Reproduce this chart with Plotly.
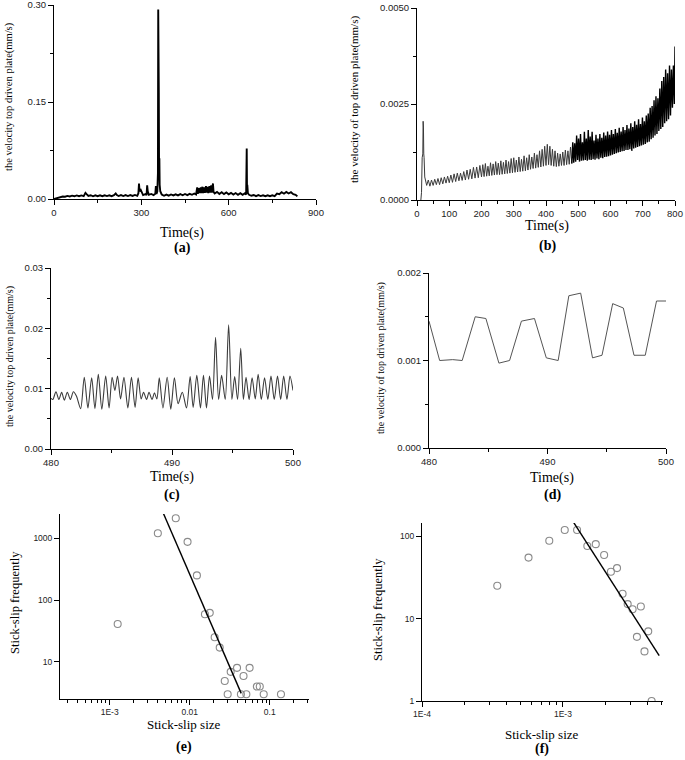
import plotly.graph_objects as go

W, H = 685, 760

# ---------------- data ----------------
# (a) velocity of top driven plate, 0-840 s
a_t = [0, 5, 10, 16, 22, 30, 38, 46, 54, 62, 70, 78, 86, 94, 102, 108, 112, 118, 126, 134,
       142, 150, 158, 166, 174, 182, 190, 198, 206, 212, 216, 222, 230, 238, 246, 254, 262, 270, 278, 286,
       290, 292, 294, 298, 306, 314, 318, 320, 322, 326, 334, 342, 348, 350, 352, 355, 357, 358, 359, 360,
       361, 362, 363, 365, 370, 378, 386, 394, 402, 410, 418, 426, 434, 442, 450, 458, 466, 474, 482, 488,
       492, 494, 498, 500, 504, 506, 510, 512, 516, 518, 522, 524, 528, 530, 534, 536, 540, 542, 546, 548,
       552, 560, 568, 576, 584, 592, 600, 608, 616, 624, 632, 640, 648, 656, 660, 662, 663, 664, 666, 670,
       678, 686, 694, 702, 710, 718, 726, 734, 742, 750, 758, 766, 774, 782, 790, 798, 806, 814, 822, 830,
       836]
a_v = [0.0, 0.0008, 0.0018, 0.0025, 0.003, 0.0038, 0.0035, 0.0048, 0.004, 0.0052, 0.0042, 0.0055, 0.0043, 0.0056, 0.0045, 0.0095, 0.0075, 0.0048, 0.0058, 0.0042,
       0.0056, 0.0044, 0.0057, 0.0043, 0.0058, 0.0045, 0.0057, 0.0044, 0.0058, 0.0085, 0.0062, 0.0046, 0.006, 0.0045, 0.0061, 0.0046, 0.006, 0.0047, 0.0062, 0.0048,
       0.009, 0.024, 0.012, 0.014, 0.006, 0.0075, 0.006, 0.021, 0.012, 0.0065, 0.0078, 0.006, 0.008, 0.02, 0.008, 0.012, 0.04, 0.293, 0.06, 0.165,
       0.04, 0.063, 0.022, 0.012, 0.007, 0.005, 0.0068, 0.0052, 0.007, 0.0055, 0.0072, 0.0056, 0.0075, 0.0058, 0.0078, 0.006, 0.008, 0.0065, 0.0085, 0.007,
       0.018, 0.008, 0.017, 0.009, 0.018, 0.009, 0.019, 0.009, 0.018, 0.0095, 0.02, 0.01, 0.019, 0.009, 0.02, 0.01, 0.021, 0.01, 0.024, 0.011,
       0.0085, 0.011, 0.0078, 0.0105, 0.0075, 0.01, 0.0072, 0.0095, 0.0068, 0.0092, 0.0066, 0.009, 0.0065, 0.0088, 0.007, 0.078, 0.012, 0.022, 0.009, 0.0065,
       0.005, 0.0062, 0.0045, 0.006, 0.0045, 0.0058, 0.0044, 0.0058, 0.0044, 0.0058, 0.0046, 0.0085, 0.0075, 0.0105, 0.0082, 0.011, 0.0085, 0.0105, 0.0075, 0.0065,
       0.004]

# (b) velocity of top driven plate, 0-800 s
b_t = [12, 14, 16, 18, 19, 20, 21, 22, 24, 27,
       30, 35, 40, 45, 50, 55, 60, 65, 70, 75, 80, 85, 90, 95, 100, 105, 110, 115, 120, 125,
       130, 135, 140, 145, 150, 155, 160, 165, 170, 175, 180, 185, 190, 195, 200,
       204, 208, 212, 216, 220, 224, 228, 232, 236, 240, 244, 248, 252, 256, 260, 264, 268, 272, 276, 280,
       284, 288, 292, 296, 300, 304, 308, 312, 316, 320, 324, 328, 332, 336, 340, 344, 348, 352, 356, 360,
       364, 368, 372, 376, 380, 384, 388, 392, 396, 400, 404, 408, 412, 416, 420, 424, 428, 432, 436, 440,
       444, 448, 452, 456, 460, 464, 468, 472, 476, 480,
       483, 486, 489, 492, 495, 498, 501, 504, 507, 510, 513, 516, 519, 522, 525, 528, 531, 534, 537, 540,
       543, 546, 549, 552, 555, 558, 561, 564, 567, 570, 573, 576, 579, 582, 585, 588, 591, 594, 597, 600,
       603, 606, 609, 612, 615, 618, 621, 624, 627, 630, 633, 636, 639, 642, 645, 648, 651, 654, 657, 660,
       663, 666, 669, 672, 675, 678, 681, 684, 687, 690, 693, 696, 699, 702, 705, 708, 711, 714, 717, 720,
       723, 726, 729, 732, 735, 738, 741, 744, 747, 750, 753, 756, 759, 762, 765, 768, 771, 774, 777, 780,
       783, 786, 789, 792, 795, 798, 800]
b_v = [0.0, 0.0002, 0.0011, 0.0012, 0.00205, 0.0019, 0.0012, 0.0011, 0.0006, 0.00045,
       0.00038, 0.00052, 0.00036, 0.00052, 0.00038, 0.00054, 0.0004, 0.00056, 0.0004, 0.00058, 0.00042, 0.0006, 0.00044, 0.00062, 0.00045, 0.00065, 0.00046, 0.00068, 0.00048, 0.0007,
       0.0005, 0.0007, 0.00051, 0.00074, 0.00052, 0.00078, 0.00054, 0.0008, 0.00055, 0.00085, 0.00057, 0.00086, 0.00058, 0.0009, 0.0006,
       0.00092, 0.00061, 0.00095, 0.00062, 0.00088, 0.00063, 0.00097, 0.00064, 0.00094, 0.00065, 0.001, 0.00066, 0.00096, 0.00066, 0.00102, 0.00067, 0.00098, 0.00068, 0.00104, 0.00069,
       0.001, 0.0007, 0.00108, 0.00071, 0.0011, 0.00072, 0.00104, 0.00073, 0.00112, 0.00074, 0.00106, 0.00075, 0.00115, 0.00076, 0.0011, 0.00078, 0.00118, 0.0008, 0.00112, 0.00082,
       0.00122, 0.00083, 0.00118, 0.00085, 0.00128, 0.00086, 0.00132, 0.00088, 0.0014, 0.0009, 0.00145, 0.00092, 0.0014, 0.0009, 0.00132, 0.00088, 0.00128, 0.00087, 0.00122, 0.00088,
       0.0012, 0.0009, 0.00125, 0.0009, 0.0013, 0.00092, 0.00128, 0.00093, 0.00138, 0.00095,
       0.0015, 0.00097, 0.00148, 0.001, 0.00168, 0.00104, 0.0016, 0.001, 0.00172, 0.00102, 0.0015, 0.00103, 0.00178, 0.00104, 0.0016, 0.00102, 0.00182, 0.00105, 0.00165, 0.00104,
       0.00178, 0.00106, 0.00155, 0.00105, 0.0017, 0.00108, 0.0016, 0.00106, 0.00172, 0.0011, 0.00162, 0.00109, 0.00176, 0.00112, 0.00168, 0.00113, 0.00178, 0.00114, 0.0017, 0.00116,
       0.00182, 0.00118, 0.00172, 0.0012, 0.00185, 0.00122, 0.00175, 0.00124, 0.00188, 0.00125, 0.00178, 0.00127, 0.0019, 0.00128, 0.00182, 0.0013, 0.00195, 0.0013, 0.00186, 0.00132,
       0.002, 0.00128, 0.0019, 0.00134, 0.00205, 0.00136, 0.00196, 0.00138, 0.0021, 0.0014, 0.00198, 0.00142, 0.00215, 0.00144, 0.00205, 0.00146, 0.0022, 0.0015, 0.00225, 0.00152,
       0.0024, 0.00158, 0.00245, 0.00162, 0.0026, 0.00168, 0.0027, 0.00172, 0.00265, 0.0018, 0.0029, 0.00185, 0.0031, 0.0019, 0.0032, 0.002, 0.0034, 0.00205, 0.0033, 0.0021,
       0.0035, 0.0022, 0.0034, 0.0024, 0.0035, 0.0025, 0.004]

# (c) detail 480-500 s
c_t = [480.0, 480.15, 480.41, 480.65, 480.88, 481.1, 481.35, 481.6, 481.85, 482.1,
       482.45, 482.75, 483.05, 483.36, 483.63, 483.91, 484.2, 484.52, 484.8, 485.05,
       485.28, 485.5, 485.75, 486.03, 486.35, 486.65, 486.95, 487.2, 487.45, 487.65,
       487.9, 488.1, 488.35, 488.55, 488.75, 488.95, 489.25, 489.6, 489.9, 490.2,
       490.5, 490.85, 491.2, 491.5, 491.75, 492.05, 492.35, 492.6, 492.85, 493.1,
       493.35, 493.6, 493.85, 494.1, 494.4, 494.68, 494.95, 495.18, 495.42, 495.68,
       495.9, 496.12, 496.37, 496.62, 496.88, 497.12, 497.38, 497.65, 497.92, 498.18,
       498.45, 498.72, 498.98, 499.23, 499.5, 499.75, 500.0]
c_v = [0.0084, 0.0082, 0.0095, 0.0082, 0.0094, 0.0081, 0.0094, 0.0082, 0.0095, 0.0088,
       0.0067, 0.0119, 0.0068, 0.0118, 0.0067, 0.0124, 0.0066, 0.0121, 0.0068, 0.0119,
       0.0097, 0.0121, 0.0083, 0.0119, 0.0068, 0.0119, 0.0069, 0.0118, 0.0083, 0.0094,
       0.0082, 0.0094, 0.0082, 0.0093, 0.0083, 0.0118, 0.0068, 0.0119, 0.0066, 0.0118,
       0.0075, 0.0094, 0.0068, 0.012, 0.0069, 0.0122, 0.0068, 0.0122, 0.0068, 0.0121,
       0.0082, 0.0185, 0.0082, 0.0122, 0.0082, 0.0206, 0.0082, 0.012, 0.0082, 0.0167,
       0.0082, 0.0119, 0.0082, 0.0118, 0.0083, 0.0124, 0.0082, 0.0118, 0.0082, 0.0121,
       0.0082, 0.0121, 0.0082, 0.0121, 0.0082, 0.0121, 0.0097]

# (d) detail 480-500 s
d_t = [480, 480.9, 482.0, 482.8, 483.9, 484.8, 485.9, 486.8, 487.8, 488.9, 489.9,
       490.9, 491.8, 492.8, 493.8, 494.6, 495.5, 496.4, 497.3, 498.25, 499.2, 500]
d_v = [0.00145, 0.001, 0.00101, 0.001, 0.0015, 0.00148, 0.00097, 0.001, 0.00145, 0.00148, 0.00103,
       0.001, 0.00174, 0.00177, 0.00103, 0.00106, 0.00165, 0.0016, 0.00106, 0.00106, 0.00168, 0.00168]

# (e) stick-slip size distribution
e_size = [0.00126, 0.0040, 0.0067, 0.0094, 0.0123, 0.0155, 0.0178, 0.0205, 0.0237, 0.0274, 0.0298,
          0.0325, 0.039, 0.0436, 0.047, 0.051, 0.056, 0.069, 0.075, 0.084, 0.138]
e_freq = [41, 1200, 2100, 870, 250, 59, 62, 25, 17, 4.9, 3, 6.9, 8, 3, 5.9, 3, 8, 4, 4, 3, 3]
e_fit_size = [0.0047, 0.044]
e_fit_freq = [2500, 3.1]

# (f) stick-slip size distribution
f_size = [3.42e-4, 5.7e-4, 8.0e-4, 1.03e-3, 1.26e-3, 1.49e-3, 1.71e-3, 1.96e-3, 2.19e-3,
          2.42e-3, 2.65e-3, 2.88e-3, 3.12e-3, 3.35e-3, 3.57e-3, 3.79e-3, 4.03e-3, 4.26e-3]
f_freq = [25, 55, 88, 119, 119, 76, 80, 59, 37, 41, 20, 15, 13, 6, 14, 4, 7, 1]
f_fit_size = [1.13e-3, 4.82e-3]
f_fit_freq = [169, 3.56]

# ---------------- figure ----------------
SANS = "Liberation Sans, Arial, sans-serif"
SERIF = "Liberation Serif, Times New Roman, serif"


def px_dom(p0, p1, total, flip=False):
    if flip:
        return [1 - p1 / total, 1 - p0 / total]
    return [p0 / total, p1 / total]


fig = go.Figure()

split = b_t.index(480)
fig.add_trace(go.Scatter(x=a_t, y=a_v, mode="lines", line=dict(color="#000000", width=1.9),
                         xaxis="x", yaxis="y", showlegend=False))
fig.add_trace(go.Scatter(x=b_t[:split + 1], y=b_v[:split + 1], mode="lines", line=dict(color="#3a3a3a", width=1.0),
                         xaxis="x2", yaxis="y2", showlegend=False))
fig.add_trace(go.Scatter(x=b_t[split:], y=b_v[split:], mode="lines", line=dict(color="#000000", width=1.4),
                         xaxis="x2", yaxis="y2", showlegend=False))
fig.add_trace(go.Scatter(x=c_t, y=c_v, mode="lines", line=dict(color="#3c3c3c", width=1.1, shape="spline", smoothing=0.8),
                         xaxis="x3", yaxis="y3", showlegend=False))
fig.add_trace(go.Scatter(x=d_t, y=d_v, mode="lines", line=dict(color="#555555", width=1),
                         xaxis="x4", yaxis="y4", showlegend=False))
fig.add_trace(go.Scatter(x=e_size, y=e_freq, mode="markers",
                         marker=dict(symbol="circle-open", size=7, color="#8a8a8a", line=dict(width=1.1)),
                         xaxis="x5", yaxis="y5", showlegend=False))
fig.add_trace(go.Scatter(x=e_fit_size, y=e_fit_freq, mode="lines", line=dict(color="#000000", width=1.4),
                         xaxis="x5", yaxis="y5", showlegend=False))
fig.add_trace(go.Scatter(x=f_size, y=f_freq, mode="markers",
                         marker=dict(symbol="circle-open", size=7, color="#8a8a8a", line=dict(width=1.1)),
                         xaxis="x6", yaxis="y6", showlegend=False))
fig.add_trace(go.Scatter(x=f_fit_size, y=f_fit_freq, mode="lines", line=dict(color="#000000", width=1.4),
                         xaxis="x6", yaxis="y6", showlegend=False))

tickfont = dict(family=SANS, size=9.5, color="#222222")
tickfont_s = dict(family=SANS, size=8.5, color="#222222")


def lin_axis(dom, rng, dtick, fmt, minor_dtick, anchor, font=tickfont):
    return dict(domain=dom, range=rng, dtick=dtick, tick0=rng[0], tickformat=fmt, automargin=False,
                ticklabeloverflow="allow",
                showline=True, linecolor="#000000", linewidth=1, ticks="outside", ticklen=5,
                tickcolor="#000000", showgrid=False, zeroline=False, tickfont=font, anchor=anchor,
                minor=dict(ticks="outside", ticklen=3, dtick=minor_dtick, tickcolor="#000000", showgrid=False))


def log_axis(dom, rng, tv, tt, minor_vals, anchor, font=tickfont_s):
    d = dict(domain=dom, type="log", range=rng, tickvals=tv, ticktext=tt, automargin=False,
             ticklabeloverflow="allow",
             showline=True, linecolor="#000000", linewidth=1, ticks="outside", ticklen=5,
             tickcolor="#000000", showgrid=False, zeroline=False, tickfont=font, anchor=anchor)
    if minor_vals:
        d["minor"] = dict(ticks="outside", ticklen=3, tickvals=minor_vals, tickcolor="#000000", showgrid=False)
    return d


e_minor = [3e-4, 4e-4, 5e-4, 6e-4, 7e-4, 8e-4, 9e-4, 2e-3, 3e-3, 4e-3, 5e-3, 6e-3, 7e-3, 8e-3, 9e-3,
           0.02, 0.03, 0.04, 0.05, 0.06, 0.07, 0.08, 0.09, 0.2, 0.3]
f_minor = [2e-4, 3e-4, 4e-4, 5e-4, 6e-4, 7e-4, 8e-4, 9e-4, 2e-3, 3e-3, 4e-3, 5e-3]

fig.update_layout(
    template="none",
    width=W, height=H, margin=dict(l=0, r=0, t=0, b=0, autoexpand=False),
    paper_bgcolor="white", plot_bgcolor="white", showlegend=False,
    xaxis=lin_axis(px_dom(54, 316, W), [0, 900], 300, "d", 150, "y"),
    yaxis=lin_axis(px_dom(5, 199, H, True), [0, 0.30], 0.15, ".2f", 0.075, "x"),
    xaxis2=lin_axis(px_dom(417, 675, W), [0, 800], 100, "d", 50, "y2"),
    yaxis2=lin_axis(px_dom(8, 200, H, True), [0, 0.005], 0.0025, ".4f", 0.00125, "x2"),
    xaxis3=lin_axis(px_dom(51, 293, W), [480, 500], 10, "d", 5, "y3"),
    yaxis3=lin_axis(px_dom(268, 449, H, True), [0, 0.03], 0.01, ".2f", 0.005, "x3"),
    xaxis4=lin_axis(px_dom(429, 666, W), [480, 500], 10, "d", 5, "y4"),
    yaxis4=lin_axis(px_dom(273, 448, H, True), [0, 0.002], 0.001, ".3f", 0.0005, "x4"),
    xaxis5=log_axis(px_dom(60, 309, W), [-3.62, -0.51], [0.001, 0.01, 0.1], ["1E-3", "0.01", "0.1"], e_minor, "y5"),
    yaxis5=log_axis(px_dom(514, 699, H, True), [0.4, 3.39], [10, 100, 1000], ["10", "100", "1000"], None, "x5"),
    xaxis6=log_axis(px_dom(422, 663, W), [-4, -2.29], [1e-4, 1e-3], ["1E-4", "1E-3"], f_minor, "y6"),
    yaxis6=log_axis(px_dom(523, 701, H, True), [0, 2.16], [1, 10, 100], ["1", "10", "100"], None, "x6"),
)

annots = [
    # (text, x px, y px, size, angle, bold)
    ("the velocity top driven plate(mm/s)", 9, 97, 10.5, -90, False),
    ("Time(s)", 182, 233, 14, 0, False),
    ("(a)", 182, 248, 14, 0, True),
    ("the velocity of top driven plate(mm/s)", 355, 100, 11, -90, False),
    ("Time(s)", 547, 226, 14, 0, False),
    ("(b)", 547, 246, 14, 0, True),
    ("the velocity top driven plate(mm/s)", 10, 357, 10, -90, False),
    ("Time(s)", 172, 477, 14, 0, False),
    ("(c)", 172, 495, 14, 0, True),
    ("the velocity of top driven plate(mm/s)", 381, 358, 10, -90, False),
    ("Time(s)", 552, 478, 14, 0, False),
    ("(d)", 552, 495, 14, 0, True),
    ("Stick-slip frequently", 15, 603, 12.5, -90, False),
    ("Stick-slip size", 184, 724, 13, 0, False),
    ("(e)", 184, 747, 14, 0, True),
    ("Stick-slip frequently", 378, 610, 12.5, -90, False),
    ("Stick-slip size", 542, 734, 13, 0, False),
    ("(f)", 542, 749, 14, 0, True),
]
for text, x, y, size, ang, bold in annots:
    fig.add_annotation(text=("<b>%s</b>" % text) if bold else text,
                       x=x / W, y=1 - y / H, xref="paper", yref="paper",
                       xanchor="center", yanchor="middle", showarrow=False, textangle=ang,
                       borderpad=0,
                       font=dict(family=SERIF, size=size, color="#000000"))

fig.write_html("out.html", config={"displayModeBar": False},
               post_script="document.body.style.margin='0px';document.body.style.padding='0px';"
                           "document.body.style.overflow='hidden';")
